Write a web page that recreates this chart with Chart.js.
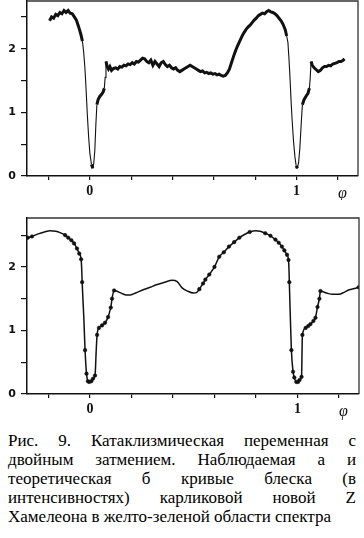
<!DOCTYPE html>
<html>
<head>
<meta charset="utf-8">
<script src="https://cdn.jsdelivr.net/npm/chart.js@4"></script>
<style>
  body { margin: 0; background: #fff; }
  #wrap { position: relative; width: 364px; height: 538px; }
  canvas { position: absolute; left: 0; }
  #top { top: 0; }
  #bottom { top: 200px; }
  #caption {
    position: absolute; left: 8px; top: 431px; width: 348px;
    font-family: "Liberation Serif", serif; font-size: 17px; line-height: 19px; color: #000;
  }
  #caption div { text-align: justify; text-align-last: justify; white-space: nowrap; }
  #caption div.last { text-align-last: left; }
</style>
</head>
<body>
<div id="wrap">
  <canvas id="top" width="364" height="200"></canvas>
  <canvas id="bottom" width="364" height="220"></canvas>
  <div id="caption"></div>
</div>
<script>
// Observed light curve (a): phase and intensity
const obsPhase = [
  -0.195, -0.185, -0.175, -0.165, -0.155, -0.145, -0.135, -0.125, -0.115, -0.105,
  -0.095, -0.085, -0.075, -0.065, -0.058, -0.050, -0.043, -0.036, -0.030, -0.024,
  -0.018, -0.012, -0.006, 0.000, 0.008, 0.014, 0.019, 0.024, 0.029, 0.034,
  0.040, 0.048, 0.056, 0.064, 0.070, 0.074, 0.078, 0.084, 0.090, 0.097,
  0.105, 0.115, 0.125, 0.135, 0.145, 0.155, 0.165, 0.175, 0.185, 0.195,
  0.205, 0.215, 0.225, 0.235, 0.245, 0.255, 0.265, 0.275, 0.285, 0.295,
  0.305, 0.315, 0.325, 0.335, 0.345, 0.355, 0.365, 0.375, 0.385, 0.395,
  0.405, 0.415, 0.425, 0.435, 0.445, 0.455, 0.465, 0.475, 0.485, 0.495,
  0.505, 0.515, 0.525, 0.535, 0.545, 0.555, 0.565, 0.575, 0.585, 0.595,
  0.605, 0.615, 0.625, 0.635, 0.645, 0.655, 0.665, 0.675, 0.685, 0.695,
  0.705, 0.715, 0.725, 0.735, 0.745, 0.755, 0.765, 0.775, 0.785, 0.795,
  0.805, 0.815, 0.825, 0.835, 0.845, 0.855, 0.865, 0.875, 0.885, 0.895,
  0.905, 0.915, 0.925, 0.935, 0.945, 0.952, 0.958, 0.963, 0.968, 0.973,
  0.978, 0.985, 0.992, 0.998, 1.004, 1.010, 1.016, 1.022, 1.028, 1.036,
  1.045, 1.055, 1.062, 1.066, 1.070, 1.076, 1.085, 1.095, 1.105, 1.115,
  1.125, 1.135, 1.145, 1.155, 1.165, 1.175, 1.185, 1.195, 1.205, 1.215,
  1.225, 1.232
];
const obsFlux = [
  2.44, 2.50, 2.48, 2.54, 2.52, 2.57, 2.55, 2.60, 2.57, 2.60,
  2.56, 2.55, 2.50, 2.45, 2.38, 2.30, 2.22, 2.12, 1.95, 1.70,
  1.35, 0.95, 0.62, 0.36, 0.18, 0.12, 0.20, 0.40, 0.80, 1.12,
  1.20, 1.25, 1.28, 1.32, 1.38, 1.55, 1.80, 1.72, 1.68, 1.72,
  1.66, 1.69, 1.70, 1.68, 1.72, 1.71, 1.74, 1.73, 1.76, 1.75,
  1.78, 1.76, 1.80, 1.79, 1.82, 1.85, 1.84, 1.80, 1.78, 1.82,
  1.74, 1.80, 1.76, 1.72, 1.78, 1.80, 1.75, 1.72, 1.74, 1.70,
  1.68, 1.70, 1.66, 1.64, 1.66, 1.68, 1.70, 1.72, 1.74, 1.72,
  1.70, 1.68, 1.66, 1.64, 1.65, 1.62, 1.63, 1.61, 1.62, 1.60,
  1.61, 1.59, 1.60, 1.58, 1.57, 1.58, 1.62, 1.68, 1.78, 1.88,
  1.97, 2.05, 2.12, 2.19, 2.25, 2.30, 2.34, 2.37, 2.41, 2.45,
  2.48, 2.52, 2.54, 2.56, 2.55, 2.58, 2.60, 2.58, 2.57, 2.55,
  2.52, 2.48, 2.44, 2.38, 2.30, 2.20, 2.10, 1.85, 1.55, 1.20,
  0.90, 0.55, 0.30, 0.16, 0.12, 0.22, 0.45, 0.80, 1.12, 1.20,
  1.25, 1.30, 1.38, 1.55, 1.80, 1.74, 1.70, 1.67, 1.64, 1.66,
  1.70, 1.72, 1.72, 1.74, 1.73, 1.76, 1.77, 1.78, 1.80, 1.80,
  1.82, 1.84
];

// Theoretical light curve (b): phase, intensity, computed nodes (1 = marked)
const theoPhase = [
  -0.300, -0.280, -0.250, -0.220, -0.193, -0.165, -0.145, -0.120, -0.105, -0.090,
  -0.077, -0.063, -0.052, -0.043, -0.040, -0.038, -0.030, -0.024, -0.017, -0.010,
  -0.004, 0.006, 0.014, 0.024, 0.030, 0.034, 0.043, 0.058, 0.072, 0.087,
  0.095, 0.100, 0.106, 0.116, 0.135, 0.155, 0.175, 0.195, 0.220, 0.256,
  0.290, 0.320, 0.360, 0.396, 0.420, 0.444, 0.470, 0.500, 0.515, 0.527,
  0.545, 0.556, 0.575, 0.600, 0.623, 0.645, 0.670, 0.695, 0.720, 0.745,
  0.770, 0.800, 0.820, 0.845, 0.870, 0.894, 0.910, 0.925, 0.937, 0.950,
  0.957, 0.960, 0.961, 0.966, 0.971, 0.979, 0.985, 0.995, 1.003, 1.010,
  1.020, 1.022, 1.024, 1.040, 1.052, 1.063, 1.077, 1.087, 1.097, 1.106,
  1.111, 1.130, 1.150, 1.170, 1.200, 1.225, 1.250, 1.275, 1.295
];
const theoFlux = [
  2.46, 2.48, 2.52, 2.55, 2.57, 2.56, 2.54, 2.50, 2.46, 2.42,
  2.37, 2.29, 2.21, 2.12, 1.95, 1.76, 1.20, 0.69, 0.32, 0.20,
  0.19, 0.20, 0.24, 0.29, 0.70, 0.93, 1.04, 1.08, 1.12, 1.21,
  1.30, 1.36, 1.50, 1.63, 1.61, 1.58, 1.56, 1.56, 1.59, 1.64,
  1.68, 1.72, 1.76, 1.79, 1.77, 1.67, 1.62, 1.59, 1.60, 1.65,
  1.74, 1.80, 1.88, 2.00, 2.16, 2.23, 2.32, 2.39, 2.46, 2.51,
  2.55, 2.57, 2.56, 2.53, 2.49, 2.43, 2.38, 2.32, 2.26, 2.19,
  2.11, 1.90, 1.76, 1.20, 0.69, 0.35, 0.26, 0.19, 0.19, 0.22,
  0.27, 0.60, 0.93, 1.04, 1.07, 1.10, 1.15, 1.20, 1.37, 1.50,
  1.62, 1.60, 1.58, 1.57, 1.57, 1.60, 1.64, 1.66, 1.68
];
const theoMark = [
  1, 1, 0, 0, 0, 0, 0, 1, 1, 1,
  1, 1, 1, 1, 0, 1, 0, 1, 1, 1,
  1, 1, 1, 1, 0, 1, 1, 1, 1, 1,
  0, 1, 1, 1, 0, 0, 0, 0, 0, 0,
  0, 0, 0, 0, 0, 0, 0, 0, 0, 1,
  1, 1, 1, 1, 1, 1, 1, 1, 1, 0,
  1, 0, 0, 1, 1, 1, 1, 1, 1, 1,
  1, 0, 1, 0, 1, 1, 1, 1, 1, 1,
  1, 0, 1, 1, 1, 1, 1, 1, 1, 1,
  1, 0, 0, 0, 0, 0, 0, 0, 1
];

// Axis labels
const xLabels = { '0': '0', '1': '1' };
const yLabels = { '0': '0', '1': '1', '2': '2' };
const phaseSymbol = 'φ';
const phaseSymbolAt = 1.222;

const captionLines = [
  'Рис. 9. Катаклизмическая переменная с',
  'двойным затмением. Наблюдаемая а и',
  'теоретическая б кривые блеска (в',
  'интенсивностях) карликовой новой Z',
  'Хамелеона в желто-зеленой области спектра'
];

const ink = '#111';

// Frame + phase symbol plugin
const framePlugin = {
  id: 'frame',
  afterDraw: (chart) => {
    const ctx = chart.ctx;
    const a = chart.chartArea;
    const xs = chart.scales.x;
    ctx.save();
    ctx.strokeStyle = '#333';
    ctx.lineWidth = 1.3;
    ctx.beginPath();
    ctx.moveTo(a.left, a.top);
    ctx.lineTo(a.right, a.top);
    ctx.lineTo(a.right, a.bottom);
    ctx.stroke();
    ctx.fillStyle = ink;
    ctx.font = 'italic 16px "Liberation Serif"';
    ctx.textAlign = 'center';
    ctx.textBaseline = 'middle';
    ctx.fillText(phaseSymbol, xs.getPixelForValue(phaseSymbolAt), a.bottom + 18);
    ctx.restore();
  }
};

function near(v, key) {
  return Math.abs(v - Number(key)) < 1e-6;
}

function labelFor(map) {
  return (v) => {
    for (const k in map) {
      if (near(v, k)) return map[k];
    }
    return '';
  };
}

function makeOptions(yMax, padTop, padRight, xHeight) {
  return {
    responsive: false,
    animation: false,
    devicePixelRatio: 1,
    layout: { padding: { top: padTop, right: padRight, left: 0, bottom: 0 } },
    plugins: { legend: { display: false }, tooltip: { enabled: false } },
    scales: {
      x: {
        type: 'linear', min: -0.304, max: 1.297,
        afterFit: (s) => {
          s.height = xHeight;
          s.paddingLeft = 0;
          s.paddingRight = 0;
        },
        border: { display: true, color: ink, width: 1.5 },
        grid: { drawOnChartArea: false, drawTicks: true, tickLength: 4, color: ink, lineWidth: 1.2 },
        ticks: {
          stepSize: 0.2, includeBounds: false, autoSkip: false, maxRotation: 0,
          padding: 3, color: ink,
          font: { family: 'Liberation Serif', size: 14, weight: 'bold' },
          callback: labelFor(xLabels)
        }
      },
      y: {
        min: 0, max: yMax,
        afterFit: (s) => {
          s.width = 27;
          s.paddingTop = 0;
          s.paddingBottom = 0;
        },
        border: { display: true, color: ink, width: 1.5 },
        grid: { drawOnChartArea: false, drawTicks: true, tickLength: 6, color: ink, lineWidth: 1.2 },
        ticks: {
          stepSize: 0.5, includeBounds: false, autoSkip: false,
          padding: 5, color: ink,
          font: { family: 'DejaVu Sans', size: 11, weight: 'bold' },
          callback: labelFor(yLabels)
        }
      }
    }
  };
}

// Top: observed curve, thin on the steep eclipse walls
const obsData = obsPhase.map((p, i) => ({ x: p, y: obsFlux[i] }));
new Chart(document.getElementById('top'), {
  type: 'line',
  data: {
    datasets: [{
      data: obsData,
      borderColor: ink,
      borderWidth: 3,
      pointRadius: 0,
      tension: 0,
      segment: {
        borderWidth: (ctx) => {
          const dx = Math.abs(ctx.p1.x - ctx.p0.x);
          const dy = Math.abs(ctx.p1.y - ctx.p0.y);
          return dy > dx * 4.5 ? 1.1 : 3;
        }
      }
    }]
  },
  options: makeOptions(2.75, 1, 6, 24),
  plugins: [framePlugin]
});

// Bottom: theoretical curve with computed nodes
const theoData = theoPhase.map((p, i) => ({ x: p, y: theoFlux[i] }));
new Chart(document.getElementById('bottom'), {
  type: 'line',
  data: {
    datasets: [{
      data: theoData,
      borderColor: ink,
      borderWidth: 1.5,
      cubicInterpolationMode: 'monotone',
      pointRadius: theoMark.map(m => m ? 1.8 : 0),
      pointBackgroundColor: ink,
      pointBorderColor: ink,
      pointBorderWidth: 0.5
    }]
  },
  options: makeOptions(2.77, 18, 5, 26),
  plugins: [framePlugin]
});

const cap = document.getElementById('caption');
captionLines.forEach((t, i) => {
  const d = document.createElement('div');
  d.textContent = t;
  if (i === captionLines.length - 1) d.className = 'last';
  cap.appendChild(d);
});
</script>
</body>
</html>
